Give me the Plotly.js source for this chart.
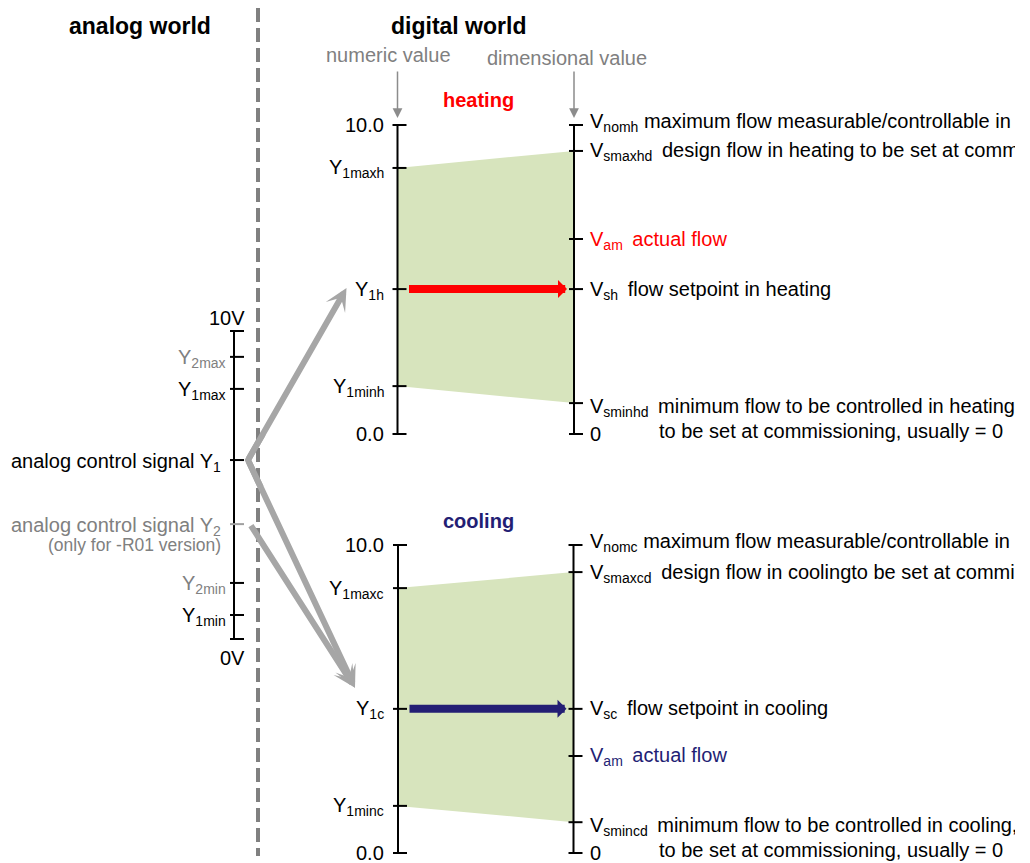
<!DOCTYPE html>
<html><head><meta charset="utf-8">
<script src="https://cdn.plot.ly/plotly-3.0.1.min.js"></script>
<style>html,body{margin:0;padding:0;background:#fff;width:1030px;height:863px;overflow:hidden}#chart{width:1015px;height:863px}</style>
</head><body><div id="chart"></div>
<script>
// ---------------- data ----------------
const sectionTitles = ['analog world', 'digital world'];
const columnTitles = ['numeric value', 'dimensional value'];
const modeTitles = ['heating', 'cooling'];

const analogEndLabels = ['10V', '0V'];
const analogLabels = ['Y<sub>2max</sub>', 'Y<sub>1max</sub>', 'analog control signal Y<sub>1</sub>', 'analog control signal Y<sub>2</sub>', 'Y<sub>2min</sub>', 'Y<sub>1min</sub>'];
const analogValues = [9.16, 8.12, 5.81, 3.73, 1.82, 0.78];
const analogNote = '(only for -R01 version)';

const heatNumLabels = ['10.0', 'Y<sub>1maxh</sub>', 'Y<sub>1h</sub>', 'Y<sub>1minh</sub>', '0.0'];
const heatNumValues = [10, 8.61, 4.69, 1.55, 0];
const heatDimSymbols = ['V<sub>nomh</sub>', 'V<sub>smaxhd</sub>', 'V<sub>am</sub>', 'V<sub>sh</sub>', 'V<sub>sminhd</sub>', '0'];
const heatDimValues = [10, 9.16, 6.31, 4.69, 1.0, 0];
const heatDimTexts = ['maximum flow measurable/controllable in heating', 'design flow in heating to be set at commissioning', 'actual flow', 'flow setpoint in heating', 'minimum flow to be controlled in heating,', ''];
const heatNote = 'to be set at commissioning, usually = 0';

const coolNumLabels = ['10.0', 'Y<sub>1maxc</sub>', 'Y<sub>1c</sub>', 'Y<sub>1minc</sub>', '0.0'];
const coolNumValues = [10, 8.60, 4.68, 1.53, 0];
const coolDimSymbols = ['V<sub>nomc</sub>', 'V<sub>smaxcd</sub>', 'V<sub>sc</sub>', 'V<sub>am</sub>', 'V<sub>smincd</sub>', '0'];
const coolDimValues = [10, 9.12, 4.68, 3.15, 1.0, 0];
const coolDimTexts = ['maximum flow measurable/controllable in cooling', 'design flow in coolingto be set at commissioning', 'flow setpoint in cooling', 'actual flow', 'minimum flow to be controlled in cooling,', ''];
const coolNote = 'to be set at commissioning, usually = 0';

// ---------------- geometry & styles ----------------
const F = 'Arial, "Liberation Sans", sans-serif';
const BLACK = '#000000', GRAY = '#808080', ARROWGRAY = '#a6a6a6', GREEN = '#d7e4bd';
const RED = '#ff0000', NAVY = '#231e74';
const analog = {top: 331, bottom: 639, x: 234};
const heat = {top: 125, bottom: 434, xl: 397.5, xr: 574};
const cool = {top: 545, bottom: 853, xl: 398, xr: 573.5};
const yOf = (p, v) => p.bottom - v / 10 * (p.bottom - p.top);

const traces = [];
const annotations = [];
const shapes = [];

function txt(x, y, text, o) {
  return Object.assign({x: x, y: y, xref: 'x', yref: 'y', text: text, showarrow: false,
    font: {family: F, size: 20, color: BLACK}, xanchor: 'left', yanchor: 'middle', borderpad: 0}, o || {});
}
function arrow(x0, y0, x1, y1, color, width, head, size) {
  return {x: x1, y: y1, ax: x0, ay: y0, xref: 'x', yref: 'y', axref: 'x', ayref: 'y', text: '',
    showarrow: true, arrowcolor: color, arrowwidth: width, arrowhead: head, arrowsize: size, standoff: 0, startstandoff: 0};
}
function segs(list) { // list of [x0,y0,x1,y1]
  const xs = [], ys = [];
  list.forEach(s => { xs.push(s[0], s[2], null); ys.push(s[1], s[3], null); });
  return {xs, ys};
}
function lineTrace(list, color, width) {
  const s = segs(list);
  return {type: 'scatter', mode: 'lines', x: s.xs, y: s.ys, line: {color: color, width: width},
    hoverinfo: 'skip', cliponaxis: false};
}

// green regions
[[heat, heatNumValues, heatDimValues], [cool, coolNumValues, coolDimValues]].forEach(([p, nv, dv]) => {
  traces.push({type: 'scatter', mode: 'lines', fill: 'toself', fillcolor: GREEN, line: {width: 0, color: GREEN},
    x: [p.xl, p.xr, p.xr, p.xl, p.xl],
    y: [yOf(p, nv[1]), yOf(p, dv[1]), yOf(p, dv[4]), yOf(p, nv[3]), yOf(p, nv[1])], hoverinfo: 'skip'});
});

// digital axes with ticks
[[heat, heatNumValues, heatDimValues], [cool, coolNumValues, coolDimValues]].forEach(([p, nv, dv]) => {
  const list = [[p.xl, p.top, p.xl, p.bottom], [p.xr, p.top, p.xr, p.bottom]];
  nv.forEach(v => list.push([p.xl - 5, yOf(p, v), p.xl + 9, yOf(p, v)]));
  dv.forEach(v => list.push([p.xr - 5, yOf(p, v), p.xr + 9, yOf(p, v)]));
  traces.push(lineTrace(list, BLACK, 2));
});

// analog axis
(function () {
  const list = [[analog.x, analog.top, analog.x, analog.bottom],
    [analog.x - 4, analog.top, analog.x + 10, analog.top], [analog.x - 4, analog.bottom, analog.x + 10, analog.bottom]];
  const grayList = [];
  analogValues.forEach((v, i) => {
    const s = [analog.x - 4, yOf(analog, v), analog.x + 10, yOf(analog, v)];
    if (analogLabels[i].indexOf('Y<sub>2</sub>') >= 0) grayList.push(s); else list.push(s);
  });
  traces.push(lineTrace(list, BLACK, 2));
  traces.push(lineTrace(grayList, '#a0a0a0', 2));
})();

// dashed separator
shapes.push({type: 'line', xref: 'x', yref: 'y', x0: 258, x1: 258, y0: 8, y1: 856,
  line: {color: '#808080', width: 4, dash: '14px,6px'}});

// gray signal arrows
const yY1 = yOf(analog, analogValues[2]);
const yY2 = yOf(analog, analogValues[3]);
const vertex = [analog.x + 14, yY1];
const tipUp = [heat.xl - 51, yOf(heat, heatNumValues[2]) - 1];
const tipDown = [cool.xl - 43, yOf(cool, coolNumValues[2]) - 21];
const startY2 = [analog.x + 16, yY2];
(function () { // joint at the vertex
  const shorten = (a, b, d) => { const dx = a[0] - b[0], dy = a[1] - b[1], L = Math.hypot(dx, dy); return [b[0] + dx / L * d, b[1] + dy / L * d]; };
  const a = shorten(tipUp, vertex, 30), b = shorten(tipDown, vertex, 30);
  traces.push({type: 'scatter', mode: 'lines', x: [a[0], vertex[0], b[0]], y: [a[1], vertex[1], b[1]],
    line: {color: ARROWGRAY, width: 6}, hoverinfo: 'skip', cliponaxis: false});
})();
annotations.push(arrow(vertex[0], vertex[1], tipUp[0], tipUp[1], ARROWGRAY, 6, 3, 0.62));
annotations.push(arrow(vertex[0], vertex[1], tipDown[0], tipDown[1], ARROWGRAY, 6, 3, 0.62));
annotations.push(arrow(startY2[0], startY2[1], tipDown[0], tipDown[1], ARROWGRAY, 6, 3, 0.62));

// set-point arrows
annotations.push(arrow(heat.xl + 10, yOf(heat, heatNumValues[2]), heat.xr - 7, yOf(heat, heatDimValues[3]), RED, 8, 1, 0.375));
annotations.push(arrow(cool.xl + 10, yOf(cool, coolNumValues[2]), cool.xr - 7, yOf(cool, coolDimValues[2]), NAVY, 8, 1, 0.375));

// small column arrows
annotations.push(arrow(heat.xl, 70, heat.xl, 118, '#8c8c8c', 1.5, 2, 1.3));
annotations.push(arrow(heat.xr, 70, heat.xr, 118, '#8c8c8c', 1.5, 2, 1.3));

// titles
annotations.push(txt(140, 26, '<b>' + sectionTitles[0] + '</b>', {xanchor: 'center', font: {family: F, size: 23, color: BLACK}}));
annotations.push(txt(458, 26, '<b>' + sectionTitles[1] + '</b>', {xanchor: 'center', font: {family: F, size: 23, color: BLACK}}));
annotations.push(txt(388, 55, columnTitles[0], {xanchor: 'center', font: {family: F, size: 20, color: GRAY}}));
annotations.push(txt(567, 58, columnTitles[1], {xanchor: 'center', font: {family: F, size: 20, color: GRAY}}));
annotations.push(txt(478, 100, '<b>' + modeTitles[0] + '</b>', {xanchor: 'center', font: {family: F, size: 20, color: RED}}));
annotations.push(txt(478, 521, '<b>' + modeTitles[1] + '</b>', {xanchor: 'center', font: {family: F, size: 20, color: NAVY}}));

// analog labels
annotations.push(txt(246, analog.top - 13, analogEndLabels[0], {xanchor: 'right'}));
annotations.push(txt(246, analog.bottom + 19, analogEndLabels[1], {xanchor: 'right'}));
analogValues.forEach((v, i) => {
  const lab = analogLabels[i];
  const isY2 = lab.indexOf('Y<sub>2') >= 0;
  const isLong = lab.length > 20;
  annotations.push(txt(isLong ? 222 : 227, yOf(analog, v) + 2, lab,
    {xanchor: 'right', font: {family: F, size: 20, color: isY2 ? GRAY : BLACK}}));
});
annotations.push(txt(222, yY2 + 21, analogNote, {xanchor: 'right', font: {family: F, size: 17.5, color: GRAY}}));

// numeric labels
[[heat, heatNumLabels, heatNumValues], [cool, coolNumLabels, coolNumValues]].forEach(([p, labs, vals]) => {
  vals.forEach((v, i) => {
    const hasSub = labs[i].indexOf('<sub>') >= 0;
    annotations.push(txt(p.xl - 13, yOf(p, v) + (hasSub ? 1 : 0), labs[i], {xanchor: 'right'}));
  });
});

// dimensional labels
[[heat, heatDimSymbols, heatDimValues, heatDimTexts, RED], [cool, coolDimSymbols, coolDimValues, coolDimTexts, NAVY]].forEach(([p, syms, vals, texts, hl]) => {
  const last = vals.length - 2;
  vals.forEach((v, i) => {
    const isAm = syms[i] === 'V<sub>am</sub>';
    const gap = i === 0 ? '\u00a0' : '\u00a0\u2009';
    const t = texts[i] ? syms[i] + gap + texts[i] : syms[i];
    let dy = syms[i].indexOf('<sub>') >= 0 ? 1 : 0;
    if (i === 0) dy -= 4;
    if (i === last) dy += 3;
    annotations.push(txt(p.xr + 15, yOf(p, v) + dy, t, {font: {family: F, size: 20, color: isAm ? hl : BLACK}}));
  });
});
annotations.push(txt(658, yOf(heat, 0) - 3, heatNote));
annotations.push(txt(658, yOf(cool, 0) - 3, coolNote));

const layout = {
  width: 1015, height: 863, margin: {l: 0, r: 0, t: 0, b: 0},
  paper_bgcolor: '#ffffff', plot_bgcolor: '#ffffff', showlegend: false,
  xaxis: {range: [0, 1015], visible: false, fixedrange: true},
  yaxis: {range: [863, 0], visible: false, fixedrange: true},
  shapes: shapes, annotations: annotations, font: {family: F}
};
Plotly.newPlot('chart', traces, layout, {staticPlot: true, displayModeBar: false});
</script>
</body></html>
